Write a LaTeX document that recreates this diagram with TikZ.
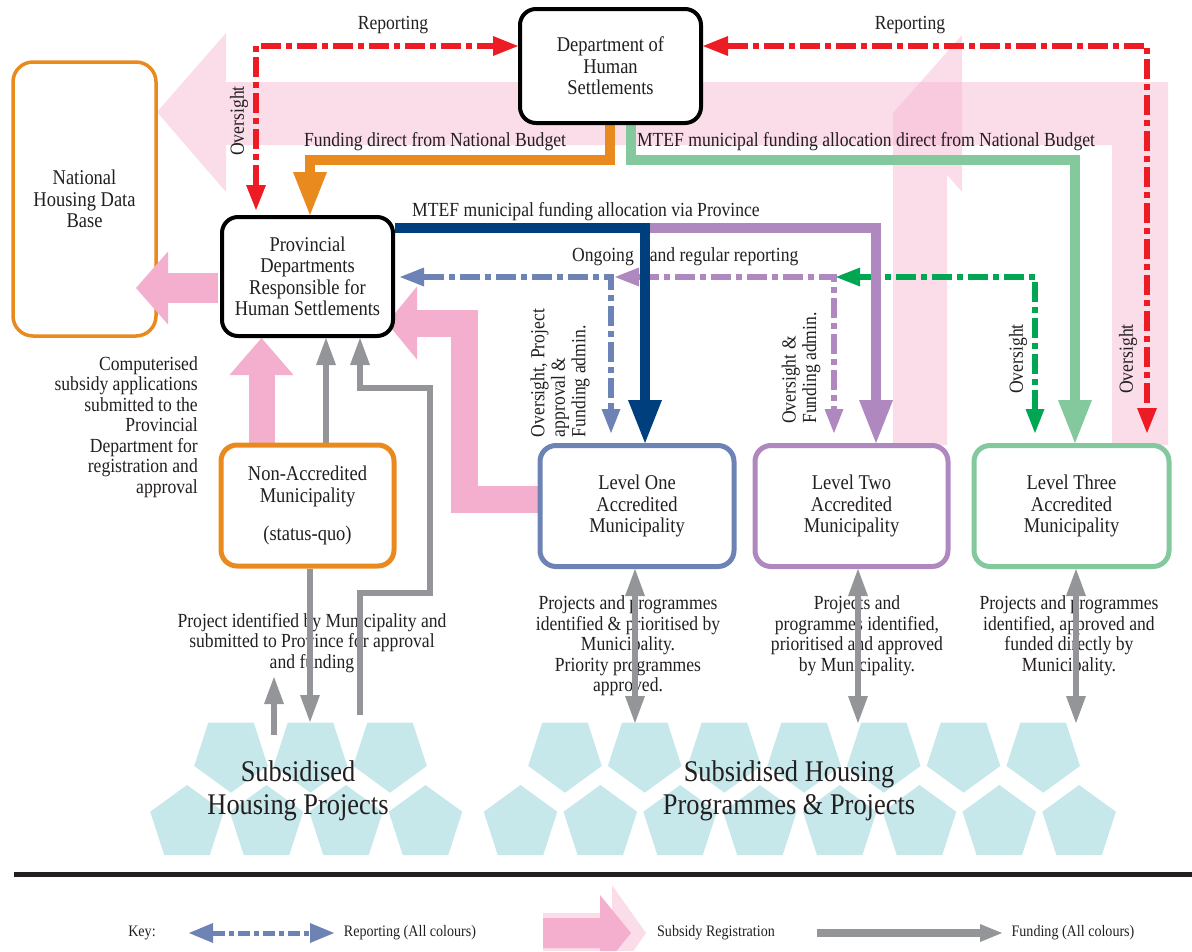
\documentclass[tikz,border=0pt]{standalone}
\usepackage{fontspec}
\setmainfont{Liberation Serif}[FakeStretch=0.88]
\usetikzlibrary{arrows.meta,calc}
\definecolor{cred}{HTML}{ED1C24}
\definecolor{corange}{HTML}{E98A1E}
\definecolor{cnavy}{HTML}{003F7D}
\definecolor{cblue}{HTML}{6E83B5}
\definecolor{cpurple}{HTML}{AE88BE}
\definecolor{cgreen}{HTML}{83C99D}
\definecolor{cgreendk}{HTML}{00A651}
\definecolor{cgrey}{HTML}{939598}
\definecolor{cpink}{HTML}{F4AECE}
\definecolor{cpinklt}{HTML}{F7B9D3}
\definecolor{ccyan}{HTML}{C7E8EB}
\definecolor{ctext}{HTML}{231F20}
\pgfdeclarelayer{bg}
\pgfdeclarelayer{lab}
\pgfdeclarelayer{mid}
\pgfdeclarelayer{top}
\pgfsetlayers{bg,lab,mid,main,top}
\newcommand\myboxfont{\fontsize{21}{21.5}\selectfont}
\newcommand\mylblfont{\fontsize{20}{20.5}\selectfont}
\newcommand\mybigfont{\fontsize{30}{33}\selectfont}
\newcommand\mykeyfont{\fontsize{16}{18}\selectfont}
\begin{document}
\begin{tikzpicture}[x=1pt,y=-1pt,
  box/.style={draw, line width=4pt, rounded corners=16pt, fill=white, align=center, font=\myboxfont, text=ctext, inner sep=0pt},
  lbl/.style={align=center, font=\mylblfont, text=ctext, inner sep=0pt},
  big/.style={align=center, font=\mybigfont, text=ctext, inner sep=0pt},
  keylbl/.style={font=\mykeyfont, text=ctext, inner sep=0pt},
  rep/.style={line width=5.5pt, dash pattern=on 20pt off 5pt on 6pt off 5pt},
  reptips/.style={{Triangle[length=24pt,width=19pt,line width=0pt]}-{Triangle[length=24pt,width=19pt,line width=0pt]}},
  redtips/.style={{Triangle[length=25pt,width=20pt,line width=0pt]}-{Triangle[length=25pt,width=20pt,line width=0pt]}},
  fund/.style={line width=10.5pt, -{Triangle[length=43pt,width=34pt,line width=0pt]}},
  gline/.style={draw=cgrey, line width=6pt},
  gtip/.style={-{Triangle[length=27pt,width=20pt,line width=0pt]}},
  gtips/.style={{Triangle[length=27pt,width=20pt,line width=0pt]}-{Triangle[length=27pt,width=20pt,line width=0pt]}}
]
\useasboundingbox (0,0) rectangle (1192,951);

% ---------- boxes ----------
\node[box, draw=black, minimum width=181pt, minimum height=114pt] (dhs) at (610.5,66) {Department of\\Human\\Settlements};
\node[box, draw=corange, line width=3.5pt, rounded corners=20pt, minimum width=143pt, minimum height=274pt] (nhdb) at (84.5,199) {National\\Housing Data\\Base};
\node[box, draw=black, minimum width=171pt, minimum height=119pt] (pd) at (307.5,276.5) {Provincial\\Departments\\Responsible for\\Human Settlements};
\node[box, draw=corange, line width=5pt, minimum width=173pt, minimum height=121pt] (nam) at (307.5,505.5) {Non-Accredited\\Municipality\\[17pt](status-quo)};
\node[box, draw=cblue, line width=5pt, minimum width=194pt, minimum height=121pt] (l1) at (637,506) {Level One\\Accredited\\Municipality};
\node[box, draw=cpurple, line width=5pt, minimum width=193pt, minimum height=121pt] (l2) at (851.5,506) {Level Two\\Accredited\\Municipality};
\node[box, draw=cgreen, line width=5pt, minimum width=195pt, minimum height=121pt] (l3) at (1071.5,506) {Level Three\\Accredited\\Municipality};

% ---------- background: subsidy registration bands and housing shapes ----------
\begin{pgfonlayer}{bg}
\fill[cpinklt, fill opacity=0.5] (157,112) -- (226,33) -- (226,82) -- (1168,82) -- (1168,445) -- (1112,445) -- (1112,145) -- (226,145) -- (226,192) -- cycle;
\fill[cpinklt, fill opacity=0.5] (893,445) -- (893,113) -- (962,35) -- (962,192) -- (947,174.8) -- (947,445) -- cycle;
\foreach \x in {231,310.5,390} {
  \fill[ccyan] ([shift={(\x,754)}]90:38.7) -- ([shift={(\x,754)}]162:38.7) -- ([shift={(\x,754)}]234:38.7) -- ([shift={(\x,754)}]306:38.7) -- ([shift={(\x,754)}]18:38.7) -- cycle;}
\foreach \x in {187,266.5,346,425.5} {
  \fill[ccyan] ([shift={(\x,823.7)}]270:38.7) -- ([shift={(\x,823.7)}]342:38.7) -- ([shift={(\x,823.7)}]54:38.7) -- ([shift={(\x,823.7)}]126:38.7) -- ([shift={(\x,823.7)}]198:38.7) -- cycle;}
\foreach \k in {0,...,6} {
  \pgfmathsetmacro\x{565+79.7*\k}
  \fill[ccyan] ([shift={(\x,754)}]90:38.7) -- ([shift={(\x,754)}]162:38.7) -- ([shift={(\x,754)}]234:38.7) -- ([shift={(\x,754)}]306:38.7) -- ([shift={(\x,754)}]18:38.7) -- cycle;}
\foreach \k in {0,...,7} {
  \pgfmathsetmacro\x{520.5+79.8*\k}
  \fill[ccyan] ([shift={(\x,823.7)}]270:38.7) -- ([shift={(\x,823.7)}]342:38.7) -- ([shift={(\x,823.7)}]54:38.7) -- ([shift={(\x,823.7)}]126:38.7) -- ([shift={(\x,823.7)}]198:38.7) -- cycle;}
\end{pgfonlayer}

% ---------- labels ----------
\begin{pgfonlayer}{lab}
\node[lbl] (tRepL) at (393,25) {Reporting};
\node[lbl] (tRepR) at (910,25) {Reporting};
\node[lbl, rotate=90] (tOvL) at (239,121) {Oversight};
\node[lbl] (tFund) at (435,142) {Funding direct from National Budget};
\node[lbl] (tMtefD) at (866,142) {MTEF municipal funding allocation direct from National Budget};
\node[lbl] (tMtefP) at (586,212) {MTEF municipal funding allocation via Province};
\node[lbl, anchor=west] (tOngo) at (572,257) {Ongoing\hspace{16pt}and regular reporting};
\node[lbl, rotate=90, align=left] (tOv1) at (560,373) {Oversight, Project\\approval \&\\Funding admin.};
\node[lbl, rotate=90, align=left] (tOv2) at (801,368) {Oversight \&\\Funding admin.};
\node[lbl, rotate=90] (tOv3) at (1018,359) {Oversight};
\node[lbl, rotate=90] (tOv4) at (1128,359) {Oversight};
\node[lbl, anchor=east, align=right] (tComp) at (198,427) {Computerised\\subsidy applications\\submitted to the\\Provincial\\Department for\\registration and\\approval};
\node[lbl] (tProj) at (312,643) {Project identified by Municipality and\\submitted to Province for approval\\and funding};
\node[lbl] (tL1) at (628,646) {Projects and programmes\\identified \& prioritised by\\Municipality.\\Priority programmes\\approved.};
\node[lbl] (tL2) at (857,635.5) {Projects and\\programmes identified,\\prioritised and approved\\by Municipality.};
\node[lbl] (tL3) at (1069,635.5) {Projects and programmes\\identified, approved and\\funded directly by\\Municipality.};
\node[big] (shp) at (298,791) {Subsidised\\Housing Projects};
\node[big] (shpp) at (789,791) {Subsidised Housing\\Programmes \& Projects};
\end{pgfonlayer}

% ---------- connectors ----------
\begin{pgfonlayer}{mid}
% subsidy registration (dark pink)
\coordinate (pk2) at (261.5,400);
\draw[cpink, line width=26pt, -{Triangle[length=37pt,width=64pt,line width=0pt]}] (nam.north -| pk2) -- (pk2 |- pd.south);
\coordinate (pk3a) at (464,499);
\coordinate (pk3b) at (464,323);
\coordinate (pk3c) at (387,323);
\draw[cpink, line width=27pt, -{Triangle[length=30pt,width=73pt,line width=0pt]}] (l1.west |- pk3a) -- (pk3a) -- (pk3b) -- (pk3c);
% reporting / oversight
\coordinate (rL) at (256,46);
\coordinate (rR) at (1147,46);
\draw[rep, cred, redtips, shorten <=5pt] (pd.north -| rL) -- (rL) -- (rL -| dhs.west);
\draw[rep, cred, redtips, shorten >=10pt] (dhs.east |- rR) -- (rR) -- (rR |- l3.north);
\coordinate (bA) at (611,277);
\coordinate (pA) at (834,277);
\coordinate (eA) at (1035,277);
\draw[rep, cblue, reptips, shorten <=5pt, shorten >=10pt] (pd.east |- bA) -- (bA) -- (bA |- l1.north);
\draw[rep, cpurple, reptips, shorten >=10pt] ([xshift=4pt]bA) -- (pA) -- (pA |- l2.north);
\draw[rep, cgreendk, reptips, shorten >=10pt] ([xshift=2pt]pA) -- (eA) -- (eA |- l3.north);
% funding
\coordinate (oA) at (610,160);
\coordinate (oB) at (310,160);
\draw[fund, corange] (oA |- dhs.south) -- (oA) -- (oB) -- (oB |- pd.north);
\coordinate (gA) at (631,160);
\coordinate (gB) at (1075,160);
\draw[fund, cgreen] (gA |- dhs.south) -- (gA) -- (gB) -- (gB |- l3.north);
\coordinate (nA) at (645,228);
\coordinate (pB) at (876,228);
\draw[fund, cpurple] (nA) -- (pB) -- (pB |- l2.north);
\draw[fund, cnavy] (pd.east |- nA) -- (nA) -- (nA |- l1.north);
% grey funding
\coordinate (g1) at (326,400);
\draw[gline, gtip] (nam.north -| g1) -- (g1 |- pd.south);
\coordinate (g2a) at (360,715);
\coordinate (g2b) at (360,593);
\coordinate (g2c) at (430,593);
\coordinate (g2d) at (430,388);
\coordinate (g2e) at (360,388);
\draw[gline, gtip] (g2a) -- (g2b) -- (g2c) -- (g2d) -- (g2e) -- (g2e |- pd.south);
\coordinate (g3) at (310,722);
\draw[gline, gtip] (nam.south -| g3) -- (g3);
\coordinate (g4a) at (274,735);
\coordinate (g4b) at (274,677);
\draw[gline, gtip] (g4a) -- (g4b);
\coordinate (s1) at (635,723);
\coordinate (s2) at (858,723);
\coordinate (s3) at (1076,723);
\draw[gline, gtips] (l1.south -| s1) -- (s1);
\draw[gline, gtips] (l2.south -| s2) -- (s2);
\draw[gline, gtips] (l3.south -| s3) -- (s3);
\end{pgfonlayer}

% ---------- registration to national data base (over its border) ----------
\begin{pgfonlayer}{top}
\coordinate (pk1) at (136,288);
\draw[cpink, line width=30pt, -{Triangle[length=32pt,width=73pt,line width=0pt]}, shorten <=2pt] (pd.west |- pk1) -- (pk1);
\end{pgfonlayer}

% ---------- key ----------
\coordinate (kl1) at (14,874.5);
\coordinate (kl2) at (1192,874.5);
\draw[line width=5pt, ctext] (kl1) -- (kl2);
\node[keylbl] (kKey) at (142,933) {Key:};
\coordinate (ka) at (189,933);
\coordinate (kb) at (334,933);
\draw[cblue, line width=5pt, dash pattern=on 12pt off 4pt on 5pt off 4pt, {Triangle[length=24pt,width=20pt,line width=0pt]}-{Triangle[length=24pt,width=20pt,line width=0pt]}] (ka) -- (kb);
\node[keylbl] (kRep) at (410,933) {Reporting (All colours)};
\fill[cpinklt, fill opacity=0.5] (543,913) -- (612,913) -- (612,885) -- (646,933) -- (633.3,951) -- (543,951) -- cycle;
\fill[cpink] (543,918) -- (600,918) -- (600,895) -- (631,933) -- (616.3,951) -- (600,951) -- (600,948) -- (543,948) -- cycle;
\node[keylbl] (kSub) at (716,933) {Subsidy Registration};
\coordinate (kc) at (817,933);
\coordinate (kd) at (1002,933);
\draw[cgrey, line width=8pt, -{Triangle[length=22pt,width=18pt,line width=0pt]}] (kc) -- (kd);
\node[keylbl] (kFun) at (1073,933) {Funding (All colours)};
\end{tikzpicture}
\end{document}
